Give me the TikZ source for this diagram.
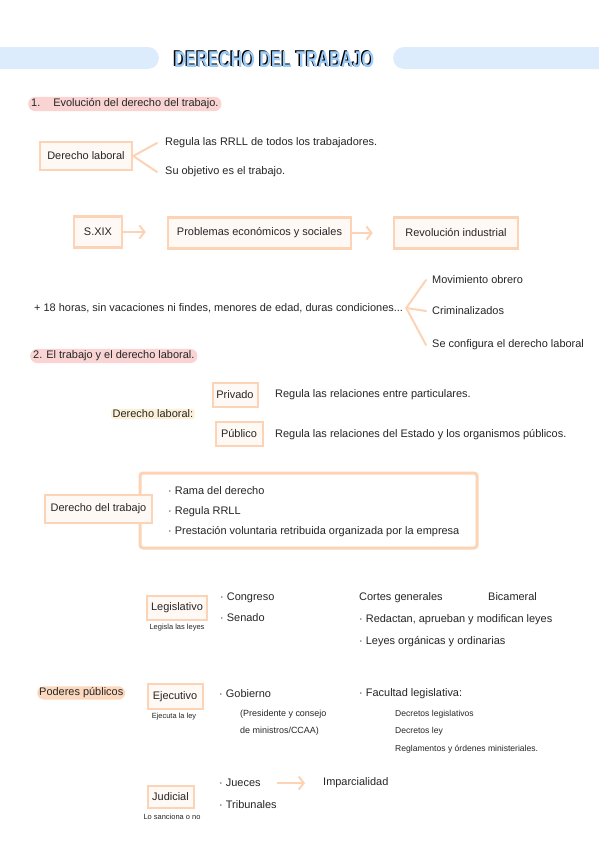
\documentclass[tikz,border=0pt]{standalone}
\usepackage{fontspec}
\setmainfont{Liberation Sans}
\usetikzlibrary{arrows.meta}
\definecolor{peach}{HTML}{FDD3B6}
\definecolor{boxfill}{HTML}{FFF9F5}
\definecolor{pinkhl}{HTML}{FAD3D3}
\definecolor{yellowhl}{HTML}{FDF0D8}
\definecolor{peachhl}{HTML}{FCD8BE}
\definecolor{barblue}{HTML}{DDECFC}
\definecolor{titleblue}{HTML}{9CCBF7}
\definecolor{ink}{HTML}{262626}
\tikzset{
 txt/.style={anchor=west, inner sep=0pt, text=ink, font=\fontsize{11}{13}\selectfont},
 midtxt/.style={anchor=west, inner sep=0pt, text=ink, font=\fontsize{9}{11}\selectfont},
 smalltxt/.style={anchor=west, inner sep=0pt, text=ink, font=\fontsize{8.6}{10}\selectfont},
 tinytxt/.style={inner sep=0pt, text=ink, font=\fontsize{7.5}{9}\selectfont},
 obox/.style={draw=peach, fill=boxfill, line width=2.5bp, inner sep=0pt, text=ink, font=\fontsize{11}{13}\selectfont},
 sbox/.style={obox, line width=2bp},
 hl/.style={fill=#1, rounded corners=7bp, inner xsep=3bp, inner ysep=2bp, anchor=west, text=ink, font=\fontsize{11}{13}\selectfont},
 parrow/.style={draw=peach, line width=2bp, -{Straight Barb[length=5bp,width=13bp,line width=2bp]}},
 branch/.style={draw=peach, line width=2bp, line cap=round},
 ttl/.style={inner sep=0pt, font=\bfseries},
}
\begin{document}
\begin{tikzpicture}[x=1bp,y=-1bp]
\useasboundingbox (0,0) rectangle (599,848);
\clip (0,0) rectangle (599,848);
\fill[white] (0,0) rectangle (599,848);
% title bars
\fill[barblue, rounded corners=11bp] (-20,47) rectangle (159,69);
\fill[barblue, rounded corners=11bp] (393,47) rectangle (620,69);
\node[ttl, text=black] (titleshadow) at (273,58.5) {\resizebox{200bp}{16bp}{DERECHO DEL TRABAJO}};
\node[ttl, text=titleblue] (title) at (274.3,59.7) {\resizebox{200bp}{16bp}{DERECHO DEL TRABAJO}};

% section 1
\node[hl=pinkhl] (s1) at (28,104) {1.\hspace{13bp}Evolución del derecho del trabajo.};
\node[obox, minimum width=92bp, minimum height=28bp] (dl) at (86,156) {Derecho laboral};
\node[txt] (reg) at (165,143) {Regula las RRLL de todos los trabajadores.};
\node[txt] (obj) at (165,172) {Su objetivo es el trabajo.};
\draw[branch] (dl.east) -- ([xshift=-8bp]reg.west);
\draw[branch] (dl.east) -- ([xshift=-8bp]obj.west);

\node[obox, minimum width=48bp, minimum height=31bp] (sxix) at (98,232) {S.XIX};
\node[obox, minimum width=183bp, minimum height=31bp] (prob) at (259.5,233) {Problemas económicos y sociales};
\node[obox, minimum width=124bp, minimum height=31bp] (rev) at (456,233) {Revolución industrial};
\draw[parrow, shorten >=21bp] (sxix.east) -- (sxix.east -| prob.west);
\draw[parrow, shorten >=20bp] (prob.east) -- (rev.west);

\node[txt] (horas) at (34,308) {+ 18 horas, sin vacaciones ni findes, menores de edad, duras condiciones...};
\node[txt] (mov) at (432,280) {Movimiento obrero};
\node[txt] (crim) at (432,311) {Criminalizados};
\node[txt] (conf) at (432,345) {Se configura el derecho laboral};
\coordinate (bp) at ([xshift=3bp]horas.east);
\draw[branch] (bp) -- ([xshift=-6bp]mov.west);
\draw[branch] (bp) -- ([xshift=-6bp]crim.west);
\draw[branch] (bp) -- ([xshift=-6bp]conf.west);

% section 2
\node[hl=pinkhl] (s2) at (30,356) {2. El trabajo y el derecho laboral.};
\node[hl=yellowhl, inner xsep=1.5bp, inner ysep=1bp, rounded corners=2bp] (dl2) at (111,414) {Derecho laboral:};
\node[sbox, minimum width=45bp, minimum height=24bp] (priv) at (235,395) {Privado};
\node[sbox, minimum width=47bp, minimum height=24bp] (pub) at (239,434) {Público};
\node[txt] (privt) at (275,395) {Regula las relaciones entre particulares.};
\node[txt] (pubt) at (275,435) {Regula las relaciones del Estado y los organismos públicos.};

\draw[draw=peach, fill=white, line width=3bp, rounded corners=3bp] (140,473) rectangle (477,548);
\node[obox, minimum width=107bp, minimum height=28bp] (dt) at (98.5,509) {Derecho del trabajo};
\node[txt] (b1) at (168,491) {· Rama del derecho};
\node[txt] (b2) at (168,512) {· Regula RRLL};
\node[txt] (b3) at (168,532) {· Prestación voluntaria retribuida organizada por la empresa};

% poderes
\node[sbox, minimum width=60bp, minimum height=24bp] (leg) at (177,608) {Legislativo};
\node[tinytxt] (legt) at (177,628) {Legisla las leyes};
\node[txt] (cong) at (220,598) {· Congreso};
\node[txt] (sen) at (220,618) {· Senado};
\node[txt] (cort) at (359,598) {Cortes generales};
\node[txt] (bic) at (488,597) {Bicameral};
\node[txt] (red) at (359,620) {· Redactan, aprueban y modifican leyes};
\node[txt] (ley) at (359,642) {· Leyes orgánicas y ordinarias};

\node[hl=peachhl, inner xsep=2bp, inner ysep=1.5bp] (pod) at (37,693) {Poderes públicos};
\node[sbox, minimum width=55bp, minimum height=25bp] (eje) at (175,696.5) {Ejecutivo};
\node[tinytxt] (ejet) at (174,717) {Ejecuta la ley};
\node[txt] (gob) at (219,694) {· Gobierno};
\node[midtxt] (pres) at (240,714) {(Presidente y consejo};
\node[midtxt] (mini) at (240,731) {de ministros/CCAA)};
\node[txt] (fac) at (359,694) {· Facultad legislativa:};
\node[smalltxt] (dlg) at (395,714) {Decretos legislativos};
\node[smalltxt] (dley) at (395,731) {Decretos ley};
\node[smalltxt] (regl) at (395,749) {Reglamentos y órdenes ministeriales.};

\node[sbox, minimum width=46bp, minimum height=22bp] (jud) at (170.5,797) {Judicial};
\node[tinytxt] (judt) at (172,817) {Lo sanciona o no};
\node[txt] (jue) at (219,783) {· Jueces};
\node[txt] (trib) at (219,805) {· Tribunales};
\node[txt] (imp) at (323,783) {Imparcialidad};
\draw[parrow, shorten <=16bp, shorten >=18bp] (jue.east) -- (imp.west);
\end{tikzpicture}
\end{document}
